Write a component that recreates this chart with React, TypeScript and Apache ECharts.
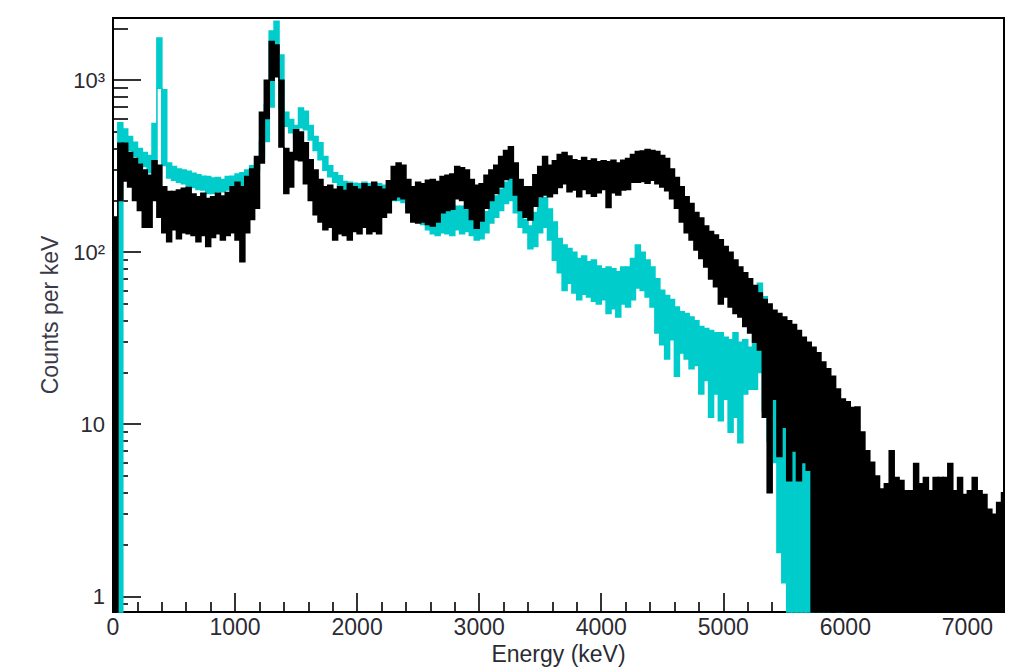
import React, { useEffect, useRef } from 'react';
import * as echarts from 'echarts';

// ---- data ----
const BIN_KEV = 40;
const X_MIN = 0;
const X_MAX = 7300;
const X_TICK_STEP = 1000;
const Y_MIN = 0.81;
const Y_MAX = 2300;
const yMajorTicks = [1, 10, 100, 1000];
const yMajorLabels = ['1', '10', '10²', '10³'];
const yMinorTicks = [0.9, 2, 3, 4, 5, 6, 7, 8, 9, 20, 30, 40, 50, 60, 70, 80, 90, 200, 300, 400, 500, 600, 700, 800, 900, 2000];
const xTitle = 'Energy (keV)';
const yTitle = 'Counts per keV';

// per 40 keV bin: lowest and highest content of the fine bins inside it
const blackLo = [
  0.5, 200, 260, 240, 200, 175, 140, 140, 200, 160,
  130, 115, 135, 120, 130, 128, 125, 115, 125, 108,
  122, 128, 118, 125, 130, 118, 88, 130, 155, 180,
  330, 600, 1000, 1050, 410, 220, 240, 345, 340, 250,
  200, 165, 150, 135, 140, 118, 128, 125, 118, 132,
  128, 140, 128, 132, 128, 160, 170, 202, 210, 205,
  170, 150, 148, 150, 145, 142, 150, 170, 175, 178,
  205, 200, 180, 155, 138, 152, 180, 200, 220, 240,
  265, 270, 215, 175, 160, 154, 185, 210, 215, 210,
  220, 238, 250, 225, 230, 210, 232, 220, 212, 222,
  232, 182, 222, 215, 230, 232, 255, 255, 258, 252,
  262, 250, 240, 228, 205, 180, 150, 130, 118, 103,
  92, 82, 70, 63, 50, 55, 48, 44, 42, 37,
  34, 30, 27, 11, 4, 14, 6.5, 9.6, 4.7, 7,
  4.7, 6, 5.4, 0.5, 0.5, 0.5, 0.5, 0.5, 0.5, 0.5,
  0.5, 0.5, 0.5, 0.5, 0.5, 0.5, 0.5, 0.5, 0.5, 0.5,
  0.5, 0.5, 0.5, 0.5, 0.5, 0.5, 0.5, 0.5, 0.5, 0.5,
  0.5, 0.5, 0.5, 0.5, 0.5, 0.5, 0.5, 0.5, 0.5, 0.5,
  0.5, 0.5, 0.5,
];
const blackHi = [
  160, 430, 430, 380, 350, 325, 300, 280, 340, 320,
  240, 225, 225, 230, 235, 238, 218, 210, 220, 205,
  210, 220, 212, 222, 240, 255, 240, 275, 305, 360,
  650, 1000, 1680, 1600, 1000, 400, 380, 515, 500, 433,
  345, 300, 265, 240, 245, 232, 240, 228, 250, 240,
  232, 250, 240, 255, 240, 232, 260, 315, 330, 320,
  265, 240, 255, 250, 262, 265, 258, 275, 280, 285,
  315, 310, 300, 265, 245, 250, 280, 300, 320, 360,
  390, 410, 330, 265, 240, 240, 282, 315, 360, 320,
  340, 370, 380, 362, 345, 340, 355, 340, 348, 335,
  340, 335, 342, 330, 342, 350, 370, 385, 388, 395,
  390, 385, 365, 350, 305, 272, 240, 210, 192, 170,
  158, 142, 132, 126, 118, 108, 100, 90, 82, 76,
  70, 64, 58, 53, 50, 46, 44, 42, 40, 38,
  35, 32, 30, 28, 26, 23, 21, 19, 16, 14,
  13.5, 12.5, 12.6, 9, 7, 6, 5, 4.2, 4.5, 7,
  4.9, 4.7, 4.1, 4.1, 5.9, 4.5, 4.9, 4.1, 4.9, 4.9,
  4.9, 5.9, 4.1, 4.9, 3.9, 4.1, 4.9, 4.1, 3.9, 3.2,
  3.0, 3.5, 4,
];
const cyanLo = [
  0.5, 0.5, 420, 390, 360, 330, 315, 290, 300, 900,
  320, 270, 262, 255, 250, 240, 238, 232, 230, 220,
  220, 225, 225, 230, 235, 240, 210, 260, 275, 300,
  360, 440, 700, 1550, 680, 540, 495, 460, 530, 515,
  450, 390, 345, 300, 275, 255, 245, 232, 230, 232,
  228, 230, 228, 225, 226, 215, 205, 200, 200, 195,
  180, 170, 150, 145, 135, 128, 125, 130, 128, 125,
  135, 128, 132, 125, 118, 120, 130, 148, 160, 175,
  192, 200, 170, 140, 130, 105, 108, 130, 140, 118,
  90, 76, 60, 66, 58, 53, 57, 55, 52, 50,
  53, 44, 47, 42, 50, 48, 53, 62, 60, 55,
  48, 34, 29, 24, 31, 19, 26, 24, 21, 22,
  15, 18, 11, 15, 10.5, 14, 9, 11, 7.8, 15,
  16, 16, 20, 12, 8, 6, 1.8, 1.2, 0.5, 0.5,
  0.5, 0.5, 0.5, 0.5, 0.5, 0.5, 0.5, 0.5, 0.5, 0.5,
  0.5, 0.5, 0.5, 0.5, 0.5, 0.5, 0.5, 0.5, 0.5, 0.5,
  0.5, 0.5, 0.5, 0.5, 0.5, 0.5, 0.5, 0.5, 0.5, 0.5,
  0.5, 0.5, 0.5, 0.5, 0.5, 0.5, 0.5, 0.5, 0.5, 0.5,
  0.5, 0.5, 0.5,
];
const cyanHi = [
  0.5, 565, 520, 470, 435, 400, 380, 365, 560, 1760,
  880, 330, 315, 305, 300, 295, 288, 282, 276, 275,
  270, 272, 265, 275, 276, 285, 290, 300, 318, 350,
  440, 720, 1930, 2200, 1400, 650, 590, 545, 690, 660,
  545, 470, 433, 360, 318, 290, 278, 258, 255, 252,
  250, 255, 250, 252, 250, 245, 240, 250, 250, 245,
  235, 225, 215, 210, 205, 200, 195, 195, 195, 185,
  185, 185, 182, 178, 155, 150, 172, 205, 212, 232,
  255, 272, 232, 185, 155, 142, 170, 205, 208, 178,
  150, 120, 110, 105, 100, 92, 95, 88, 90, 83,
  80, 82, 80, 77, 82, 82, 92, 110, 100, 90,
  82, 70, 60, 56, 53, 48, 45, 44, 42, 40,
  37, 36, 35, 34, 34, 32, 31, 34, 30, 31,
  28, 38, 66, 55, 25, 16, 14, 10, 9, 8.5,
  7, 6.8, 6, 5.8, 3.9, 3, 3, 0.5, 1.9, 1.9,
  0.5, 0.5, 0.5, 0.5, 0.5, 0.5, 0.5, 0.5, 0.5, 0.5,
  0.5, 0.5, 0.5, 0.5, 0.5, 0.5, 0.5, 0.5, 0.5, 0.5,
  0.5, 0.5, 0.5, 0.5, 0.5, 0.5, 0.5, 0.5, 0.5, 0.5,
  0.5, 0.5, 0.5,
];

// ---- styling ----
const FONT = "'Liberation Sans', Arial, Helvetica, sans-serif";
const TEXT_COLOR = '#2b2b33';
const TITLE_COLOR = '#3a3a48';
const BLACK = '#000000';
const CYAN = '#00cccc';

function buildBins(lo: number[], hi: number[]) {
  return lo.map((l, i) => [
    i * BIN_KEV,
    Math.min((i + 1) * BIN_KEV, X_MAX),
    l,
    hi[i],
    i > 0 ? lo[i - 1] : l,
    i > 0 ? hi[i - 1] : hi[i],
  ]);
}

function makeRenderItem(color: string) {
  return (params: any, api: any) => {
    const cs = params.coordSys;
    const top = cs.y;
    const bottom = cs.y + cs.height;
    const right = cs.x + cs.width;
    const cy = (v: number) => Math.max(top, Math.min(bottom, v));
    const e0 = api.value(0);
    const e1 = api.value(1);
    const lo = api.value(2);
    const hi = api.value(3);
    const pLo = api.value(4);
    const pHi = api.value(5);
    const x0 = api.coord([e0, hi])[0];
    const x1 = Math.min(right, api.coord([e1, hi])[0]);
    const yHi = cy(api.coord([e0, hi])[1]);
    const yLo = cy(api.coord([e0, lo])[1]);
    const children: any[] = [];
    if (yHi < bottom) {
      children.push({
        type: 'rect',
        shape: { x: x0, y: yHi, width: Math.max(0, x1 - x0), height: Math.max(0, yLo - yHi) },
        style: { fill: color, stroke: color, lineWidth: 1.6 },
      });
    }
    if (params.dataIndex > 0) {
      let a: number | null = null;
      let b: number | null = null;
      if (pHi < lo) { a = pHi; b = lo; }
      else if (pLo > hi) { a = pLo; b = hi; }
      if (a !== null && b !== null) {
        const ya = cy(api.coord([e0, a])[1]);
        const yb = cy(api.coord([e0, b])[1]);
        if (Math.abs(ya - yb) > 0.1) {
          children.push({
            type: 'line',
            shape: { x1: x0, y1: ya, x2: x0, y2: yb },
            style: { stroke: color, lineWidth: 1.6 },
          });
        }
      }
    }
    return { type: 'group', children };
  };
}

function yLabel(v: number) {
  for (let k = 0; k < yMajorTicks.length; k++) {
    if (Math.abs(Math.log10(v) - Math.log10(yMajorTicks[k])) < 1e-6) return yMajorLabels[k];
  }
  return '';
}

export default function App() {
  const ref = useRef<HTMLDivElement>(null);
  useEffect(() => {
    if (!ref.current) return;
    const chart = echarts.init(ref.current, undefined, { renderer: 'svg' });
    const axisLineStyle = { color: BLACK, width: 2 };
    const option: any = {
      animation: false,
      backgroundColor: '#ffffff',
      grid: {
        left: 113,
        top: 18,
        right: 20,
        bottom: 59,
        show: true,
        borderColor: BLACK,
        borderWidth: 2,
        backgroundColor: 'transparent',
        containLabel: false,
        outerBoundsMode: 'none',
      },
      xAxis: {
        type: 'value',
        min: X_MIN,
        max: X_MAX,
        interval: X_TICK_STEP,
        name: xTitle,
        nameLocation: 'middle',
        nameGap: 26,
        nameTextStyle: { fontFamily: FONT, fontSize: 23, color: TEXT_COLOR },
        axisLine: { show: true, lineStyle: axisLineStyle },
        axisTick: { show: true, inside: true, length: 19, lineStyle: { color: BLACK, width: 1.6 } },
        minorTick: { show: true, splitNumber: 5, length: 10, lineStyle: { color: BLACK, width: 1.6 } },
        axisLabel: {
          fontFamily: FONT,
          fontSize: 23,
          color: TEXT_COLOR,
          margin: 3,
          showMaxLabel: false,
          formatter: (v: number) => String(Math.round(v)),
        },
        splitLine: { show: false },
        minorSplitLine: { show: false },
      },
      yAxis: [
        {
          type: 'log',
          min: Y_MIN,
          max: Y_MAX,
          position: 'left',
          name: yTitle,
          nameLocation: 'middle',
          nameRotate: 90,
          nameGap: 52,
          nameTextStyle: { fontFamily: FONT, fontSize: 23, color: TITLE_COLOR },
          axisLine: { show: true, lineStyle: axisLineStyle },
          axisTick: { show: true, inside: true, length: 28, customValues: yMajorTicks, lineStyle: { color: BLACK, width: 1.6 } },
          axisLabel: {
            customValues: yMajorTicks,
            formatter: (v: number) => yLabel(v),
            fontFamily: FONT,
            fontSize: 22,
            color: TEXT_COLOR,
            margin: 8,
          },
          splitLine: { show: false },
        },
        {
          type: 'log',
          min: Y_MIN,
          max: Y_MAX,
          position: 'left',
          axisLine: { show: false },
          axisTick: { show: true, inside: true, length: 15, customValues: yMinorTicks, lineStyle: { color: BLACK, width: 1.6 } },
          axisLabel: { show: false },
          splitLine: { show: false },
        },
      ],
      series: [
        {
          name: 'cyan',
          type: 'custom',
          silent: true,
          xAxisIndex: 0,
          yAxisIndex: 0,
          renderItem: makeRenderItem(CYAN),
          encode: { x: [0, 1], y: [2, 3] },
          data: buildBins(cyanLo, cyanHi),
        },
        {
          name: 'black',
          type: 'custom',
          silent: true,
          xAxisIndex: 0,
          yAxisIndex: 0,
          renderItem: makeRenderItem(BLACK),
          encode: { x: [0, 1], y: [2, 3] },
          data: buildBins(blackLo, blackHi),
        },
      ],
    };
    chart.setOption(option);
    return () => chart.dispose();
  }, []);
  return (
    <div
      ref={ref}
      style={{ position: 'absolute', left: 0, top: 0, width: 1024, height: 671, background: '#fff' }}
    />
  );
}
